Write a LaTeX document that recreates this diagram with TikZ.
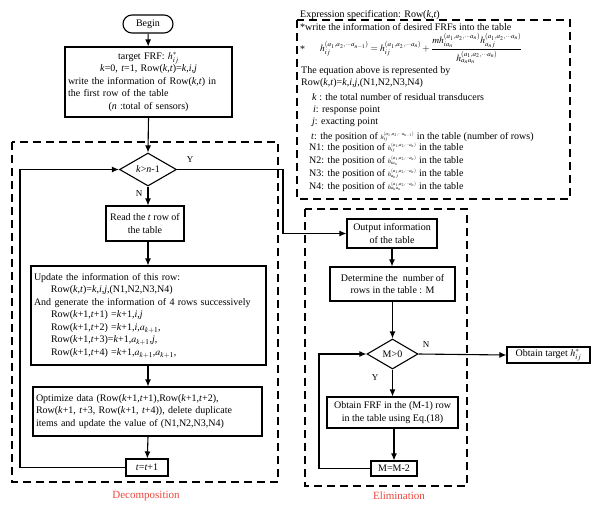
\documentclass[tikz,border=0pt]{standalone}
\usepackage{mathptmx}
\usepackage{fontspec}
\setmainfont{Liberation Serif}
\usetikzlibrary{arrows.meta, positioning, shapes.geometric, calc}
\definecolor{lblred}{RGB}{235,70,60}
\newcommand{\bfnt}{\fontsize{10}{12.5}\selectfont}
\newcommand{\iv}[1]{\textit{#1}}
\newcommand{\hsup}{(a_1,a_2,\cdots a_n)}
% small FRF symbol for the list lines
\newcommand{\hsm}[2]{{\fontsize{6.5}{7}\selectfont$h_{#1}^{#2}$}}
\tikzset{
    % flow chart boxes
    pbox/.style={rectangle, draw=black, line width=1.1pt, align=center,
                inner sep=2pt, font=\bfnt},
    termbox/.style={rectangle, rounded corners=9pt, draw=black, line width=1.1pt,
                minimum width=50pt, minimum height=18pt, font=\bfnt},
    dbox/.style={diamond, draw=black, line width=1.1pt, inner sep=0pt,
                font=\bfnt},
    farrow/.style={-{Latex[length=7pt, width=6pt]}, line width=1.1pt},
    yn/.style={font=\fontsize{9}{10}\selectfont},
    % dashed frames
    zone/.style={line width=1.2pt, dash pattern=on 8pt off 5pt},
    zlbl/.style={font=\fontsize{11}{12}\selectfont, text=lblred},
    % expression text
    xline/.style={anchor=base west, inner sep=0pt, font=\bfnt},
}
\begin{document}
\begin{tikzpicture}[x=1pt, y=-1pt]
\useasboundingbox (0,0) rectangle (599,512);

% Decomposition
\draw[zone] (12,142) rectangle (278,482);
\node[termbox] (begin) at (148,24) {Begin};
\node[pbox, minimum width=167pt, minimum height=70pt, text width=161pt, align=left] (target) at (148.5,82)
  {\makebox[\linewidth][c]{target FRF: $h^{*}_{ij}$}\\
   \makebox[\linewidth][c]{\iv{k}=0, \iv{t}=1, Row(\iv{k},\iv{t})=\iv{k},\iv{i},\iv{j}}\\
   write the information of Row(\iv{k},\iv{t}) in\\
   the first row of the table\\
   \makebox[\linewidth][c]{(\iv{n} :total of sensors)}};
\node[dbox, minimum width=57pt, minimum height=33pt] (kcheck) at (148,169.5) {\iv{k}>\iv{n}-1};
\node[pbox, minimum width=78pt, minimum height=35pt] (read) at (145,223.5) {Read the \iv{t} row of\\the table};
\node[pbox, minimum width=235pt, minimum height=99pt, text width=229pt, align=left] (update) at (148.5,315.5)
  {Update the information of this row:\\
   \hspace*{17pt}Row(\iv{k},\iv{t})=\iv{k},\iv{i},\iv{j},(N1,N2,N3,N4)\\
   And generate the information of 4 rows successively\\
   \hspace*{17pt}Row(\iv{k}+1,\iv{t}+1) =\iv{k}+1,\iv{i},\iv{j}\\
   \hspace*{17pt}Row(\iv{k}+1,\iv{t}+2) =\iv{k}+1,\iv{i},$a_{k+1}$,\\
   \hspace*{17pt}Row(\iv{k}+1,\iv{t}+3)=\iv{k}+1,$a_{k+1}$,\iv{j},\\
   \hspace*{17pt}Row(\iv{k}+1,\iv{t}+4) =\iv{k}+1,$a_{k+1}$,$a_{k+1}$,};
\node[pbox, minimum width=229pt, minimum height=49pt, text width=223pt, align=left] (optim) at (147.5,411.5)
  {Optimize data (Row(\iv{k}+1,\iv{t}+1),Row(\iv{k}+1,\iv{t}+2),\\
   Row(\iv{k}+1, \iv{t}+3, Row(\iv{k}+1, \iv{t}+4)), delete duplicate\\
   items and update the value of (N1,N2,N3,N4)};
\node[pbox, minimum width=42pt, minimum height=17pt] (tinc) at (147,467.5) {\iv{t}=\iv{t}+1};
\node[zlbl] (declbl) at (146,496) {Decomposition};

\node[yn] (kyes) at (190,160) {Y};
\node[yn] (kno) at (139,194) {N};

\draw[farrow] (begin) -- (target);
\draw[farrow] (target.south) -- (kcheck.north);
\draw[farrow] (kcheck) -- (kcheck |- read.north);
\draw[farrow] (read.south -| kcheck) -- (kcheck |- update.north);
\draw[farrow] (kcheck |- update.south) -- (kcheck |- optim.north);
\draw[farrow] (kcheck |- optim.south) -- (tinc);
\coordinate (tloop) at (20,467.5);
\draw[farrow] (tinc.west) -- (tloop) |- (kcheck.west);

% Elimination
\draw[zone] (305,209) rectangle (467,486);
\node[pbox, minimum width=90pt, minimum height=29pt] (output) at (392,233.5) {Output information\\of the table};
\node[pbox, minimum width=125pt, minimum height=34pt] (rows) at (392.5,284) {Determine the\ \ number of\\rows in the table : M};
\node[dbox, minimum width=51pt, minimum height=30pt] (mcheck) at (392.5,354) {M>0};
\node[pbox, minimum width=131pt, minimum height=31pt] (frf) at (392.5,412.5) {Obtain FRF in the (M-1) row\\in the table using Eq.(18)};
\node[pbox, minimum width=46pt, minimum height=15pt] (mdec) at (394,468.5) {M=M-2};
\node[pbox, minimum width=83pt, minimum height=16pt] (final) at (548.5,355) {Obtain target $h^{*}_{ij}$};
\node[zlbl] (elilbl) at (399,496) {Elimination};

\node[yn] (mno) at (426,345) {N};
\node[yn] (myes) at (375,378) {Y};

\coordinate (ybend) at (283,169.5);
\draw[farrow] (kcheck.east) -- (ybend) |- (output.west);
\draw[farrow] (output) -- (output |- rows.north);
\draw[farrow] (rows) -- (mcheck);
\draw[farrow] (mcheck) -- (frf);
\draw[farrow] (frf.south -| mdec) -- (mdec);
\coordinate (mloop) at (319,468.5);
\draw[farrow] (mdec.west) -- (mloop) |- (mcheck.west);
\draw[farrow] (mcheck.east) -- (final.west);

% Expression specification
\draw[zone] (297,20) rectangle (570,199);
\node[xline] (xtitle) at (300,17) {Expression specification: Row(\iv{k},\iv{t})};
\node[xline] (xstar) at (300,30) {*write the information of desired FRFs into the table};
\node[anchor=west, inner sep=0pt, font=\bfnt] (xmark) at (300,49) {*};
\node[anchor=west, inner sep=0pt, font=\fontsize{9.5}{10}\selectfont] (xeq) at (320,48.5)
  {$h_{ij}^{(a_1,a_2,\cdots a_{n-1})}=h_{ij}^{\hsup}+\displaystyle\frac{m h_{ia_n}^{\hsup}h_{a_nj}^{\hsup}}{h_{a_na_n}^{\hsup}}$};
\node[xline] (xrep) at (301,73) {The equation above is represented by};
\node[xline] (xrow) at (301,85) {Row(\iv{k},\iv{t})=\iv{k},\iv{i},\iv{j},(N1,N2,N3,N4)};
\node[xline] (xk) at (312,100) {\iv{k} : the total number of residual transducers};
\node[xline] (xi) at (313,112) {\iv{i}: response point};
\node[xline] (xj) at (312,124) {\iv{j}: exacting point};
\node[xline] (xt) at (311,139) {\iv{t}: the position of \hsm{ij}{(a_1,a_2,\cdots a_{n-1})} in the table (number of rows)};
\node[xline] (xn1) at (309,150) {N1: the position of \hsm{ij}{\hsup} in the table};
\node[xline] (xn2) at (309,163) {N2: the position of \hsm{ia_n}{\hsup} in the table};
\node[xline] (xn3) at (309,176) {N3: the position of \hsm{a_nj}{\hsup} in the table};
\node[xline] (xn4) at (309,189) {N4: the position of \hsm{a_na_n}{\hsup} in the table};
\end{tikzpicture}
\end{document}
